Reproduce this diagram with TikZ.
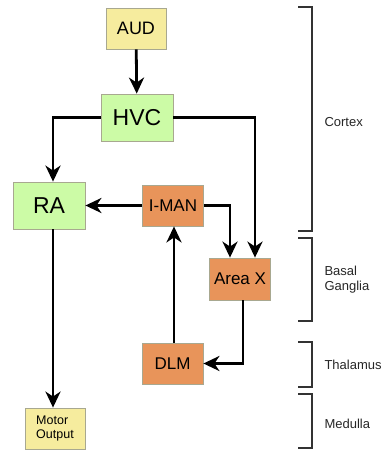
\documentclass[tikz,border=0pt]{standalone}
\usepackage{fontspec}
\setmainfont{Liberation Sans}
\usetikzlibrary{arrows.meta,calc}
\definecolor{audyellow}{HTML}{F6EC9E}
\definecolor{hvcgreen}{HTML}{CCFBA6}
\definecolor{nucorange}{HTML}{E8945A}
\definecolor{boxedge}{HTML}{A8A890}
\begin{document}
\begin{tikzpicture}[x=1pt,y=-1pt,
  region/.style={draw=boxedge,line width=0.8pt,inner sep=0pt,align=center},
  yellowbox/.style={region,fill=audyellow},
  greenbox/.style={region,fill=hvcgreen},
  orangebox/.style={region,fill=nucorange},
  link/.style={line width=2.8pt,-{Stealth[length=16pt,width=15pt,inset=5pt]}},
  bracket/.style={line width=1.4pt,draw=black!80},
  zone/.style={anchor=west,align=left,font=\fontsize{13}{15}\selectfont,text=black!85}]
\useasboundingbox (0,0) rectangle (383,451);

% nuclei
\node[yellowbox,minimum width=60pt,minimum height=41pt,font=\fontsize{18}{18}\selectfont] (aud) at (136,28.5) {AUD};
\node[greenbox,minimum width=72pt,minimum height=47pt,font=\fontsize{23}{23}\selectfont] (hvc) at (137,117.5) {HVC};
\node[greenbox,minimum width=72pt,minimum height=47pt,font=\fontsize{23}{23}\selectfont] (ra) at (49,205.5) {RA};
\node[orangebox,minimum width=61pt,minimum height=41pt,font=\fontsize{17}{17}\selectfont] (iman) at (173,205.5) {I-MAN};
\node[orangebox,minimum width=61pt,minimum height=42pt,font=\fontsize{17}{17}\selectfont] (areax) at (240,279) {Area X};
\node[orangebox,minimum width=61pt,minimum height=41pt,font=\fontsize{17}{17}\selectfont] (dlm) at (172.5,363.5) {DLM};
\node[yellowbox,minimum width=60pt,minimum height=41pt,font=\fontsize{12.5}{14}\selectfont,align=left] (motor) at (55,428.5) {Motor\\Output};

% connection points
\coordinate (raIn) at ($(ra.north)+(4,0)$);
\coordinate (raOut) at ($(ra.south)+(4,0)$);
\coordinate (motorIn) at ($(motor.north)+(-2,0)$);
\coordinate (axInA) at ($(areax.north)+(15,0)$);
\coordinate (axInB) at ($(areax.north)+(-10,0)$);
\coordinate (axOut) at ($(areax.south)+(3,0)$);
\coordinate (dlmOut) at ($(dlm.north)+(1.5,0)$);

% pathways
\draw[link] (aud) -- (hvc);
\draw[link] (hvc.west) -| (raIn);
\draw[link] (hvc.east) -| (axInA);
\draw[link] (iman.east) -| (axInB);
\draw[link] (iman) -- (ra);
\draw[link] (dlmOut) -- (dlmOut |- iman.south);
\draw[link] (axOut) |- (dlm.east);
\draw[link] (raOut) -- (raOut |- motorIn);

% brain regions
\draw[bracket] (298,7) -- (312,7) -- (312,231) -- (298,231);
\draw[bracket] (298,238) -- (312,238) -- (312,321) -- (298,321);
\draw[bracket] (298,342) -- (312,342) -- (312,387) -- (298,387);
\draw[bracket] (298,394) -- (312,394) -- (312,448) -- (298,448);
\node[zone] (cortex) at (321,122) {Cortex};
\node[zone] (basal) at (321,280) {Basal\\Ganglia};
\node[zone] (thal) at (321,365) {Thalamus};
\node[zone] (med) at (321,424) {Medulla};
\end{tikzpicture}
\end{document}
